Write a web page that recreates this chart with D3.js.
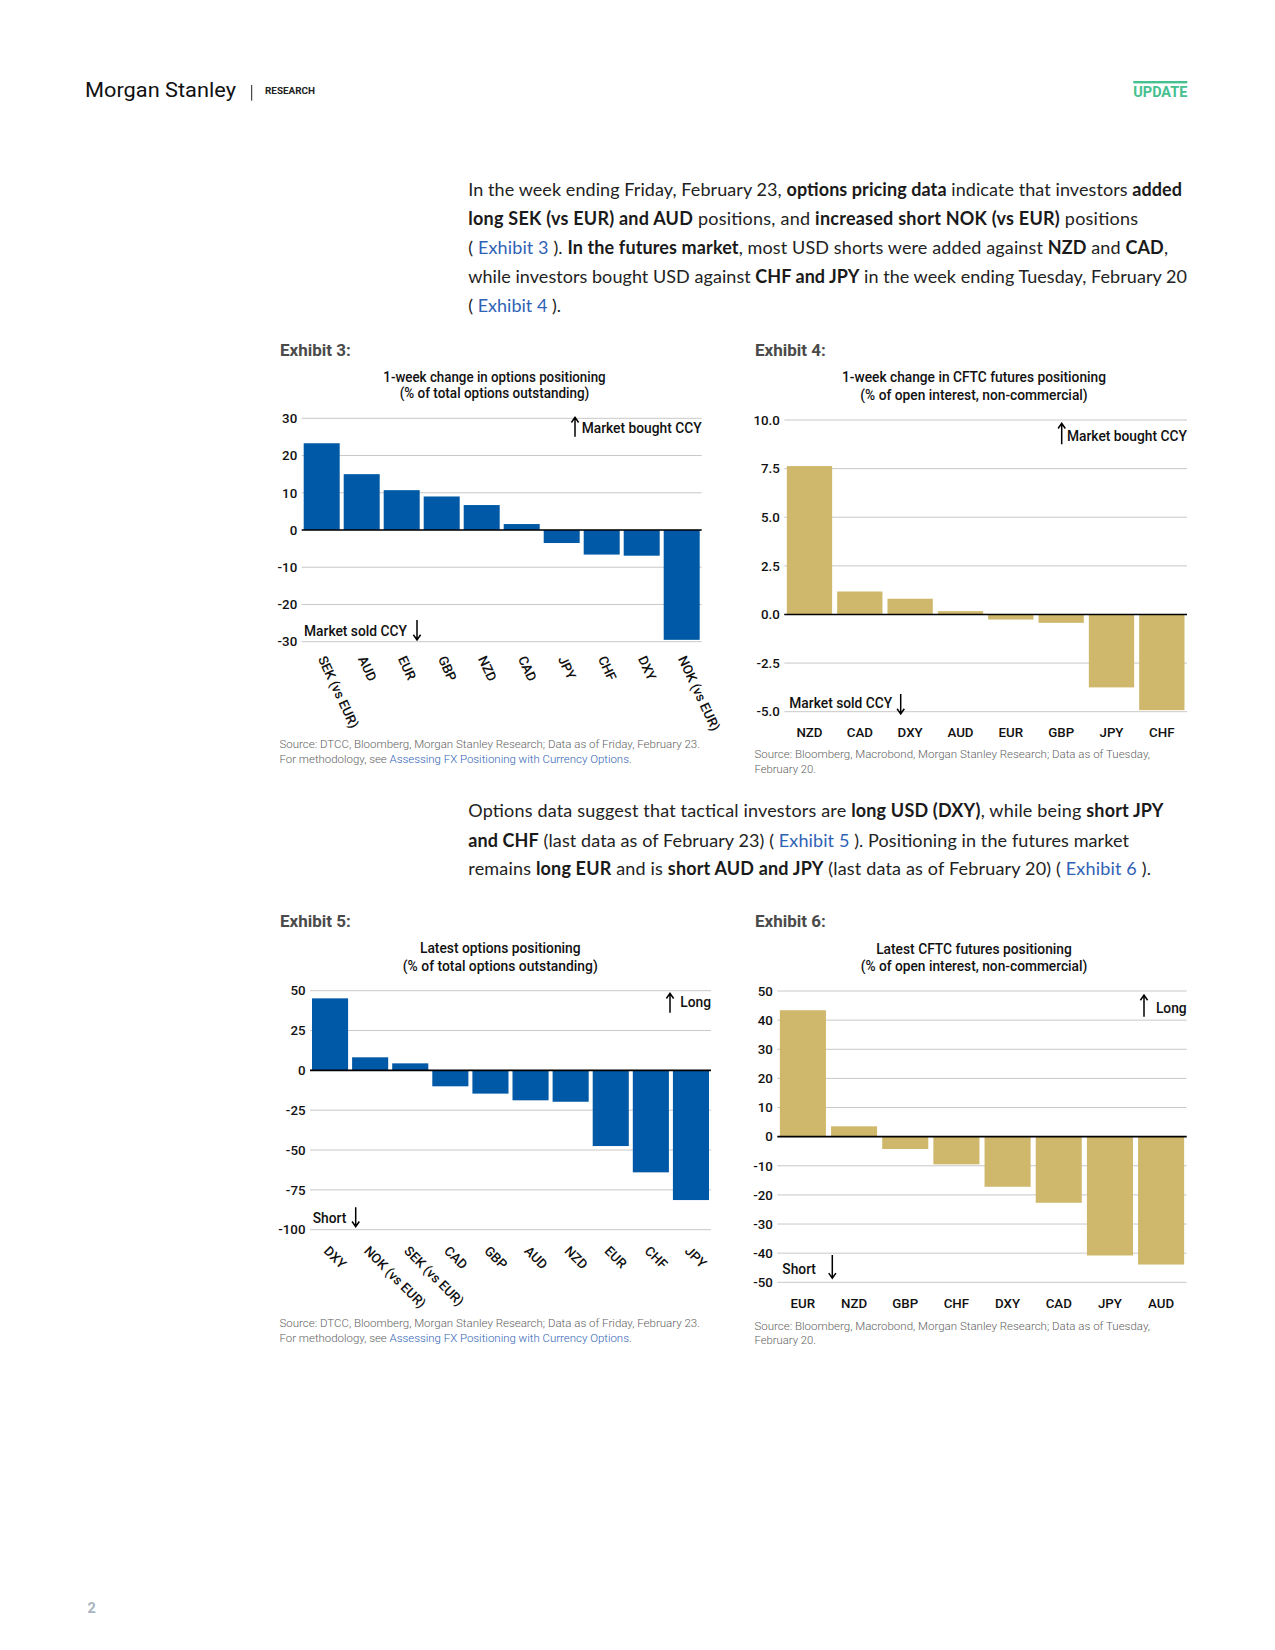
<!DOCTYPE html>
<html><head><meta charset="utf-8">
<script src="https://cdn.jsdelivr.net/npm/d3@7"></script>
<style>
html,body{margin:0;padding:0;background:#fff;}
svg{display:block;}
</style></head>
<body>
<svg id="page" width="1275" height="1650"></svg>
<script>
// ---------------- DATA ----------------
const ex3Cats = ["SEK (vs EUR)","AUD","EUR","GBP","NZD","CAD","JPY","CHF","DXY","NOK (vs EUR)"];
const ex3Vals = [23.3, 15.0, 10.7, 9.0, 6.7, 1.6, -3.5, -6.6, -6.9, -29.5];
const ex3Ticks = [30, 20, 10, 0, -10, -20, -30];

const ex4Cats = ["NZD","CAD","DXY","AUD","EUR","GBP","JPY","CHF"];
const ex4Vals = [7.63, 1.18, 0.81, 0.17, -0.26, -0.43, -3.75, -4.92];
const ex4Ticks = [10, 7.5, 5, 2.5, 0, -2.5, -5];

const ex5Cats = ["DXY","NOK (vs EUR)","SEK (vs EUR)","CAD","GBP","AUD","NZD","EUR","CHF","JPY"];
const ex5Vals = [45.2, 8.2, 4.4, -10.0, -14.6, -18.8, -19.7, -47.5, -64.0, -81.4];
const ex5Ticks = [50, 25, 0, -25, -50, -75, -100];

const ex6Cats = ["EUR","NZD","GBP","CHF","DXY","CAD","JPY","AUD"];
const ex6Vals = [43.4, 3.55, -4.24, -9.5, -17.2, -22.7, -40.8, -43.9];
const ex6Ticks = [50, 40, 30, 20, 10, 0, -10, -20, -30, -40, -50];

const para1 = [
  [["In the week ending Friday, February 23, "],["options pricing data","b"],[" indicate that investors "],["added","b"]],
  [["long SEK (vs EUR) and AUD","b"],[" positions, and "],["increased short NOK (vs EUR)","b"],[" positions"]],
  [["( "],["Exhibit 3","a"],[" ). "],["In the futures market","b"],[", most USD shorts were added against "],["NZD","b"],[" and "],["CAD","b"],[","]],
  [["while investors bought USD against "],["CHF and JPY","b"],[" in the week ending Tuesday, February 20"]],
  [["( "],["Exhibit 4","a"],[" )."]]
];
const para2 = [
  [["Options data suggest that tactical investors are "],["long USD (DXY)","b"],[", while being "],["short JPY","b"]],
  [["and CHF","b"],[" (last data as of February 23) ( "],["Exhibit 5","a"],[" ). Positioning in the futures market"]],
  [["remains "],["long EUR","b"],[" and is "],["short AUD and JPY","b"],[" (last data as of February 20) ( "],["Exhibit 6","a"],[" )."]]
];

// ---------------- DRAW ----------------
const svg = d3.select("#page");
const BLUE = "#0059a6", GOLD = "#cfb76b", LINK = "#2f62b5";
const loc = d3.formatLocale({decimal: ".", thousands: ",", grouping: [3], currency: ["", ""], minus: "-"});

// Header
svg.append("text").attr("x", 85).attr("y", 96.7).attr("font-family","Roboto").attr("font-size",21)
  .attr("fill","#111").attr("textLength",151).attr("lengthAdjust","spacingAndGlyphs").text("Morgan Stanley");
svg.append("line").attr("x1",251.7).attr("x2",251.7).attr("y1",85).attr("y2",100.7).attr("stroke","#222").attr("stroke-width",1);
svg.append("text").attr("x", 265).attr("y", 94).attr("font-family","Roboto").attr("font-weight",700).attr("font-size",8.2)
  .attr("fill","#222").attr("textLength",50).attr("lengthAdjust","spacingAndGlyphs").text("RESEARCH");
svg.append("rect").attr("x",1133.3).attr("y",81).attr("width",54).attr("height",2.4).attr("fill","#45c08e");
svg.append("text").attr("x", 1133.3).attr("y", 96.7).attr("font-family","Roboto").attr("font-weight",700).attr("font-size",13.8)
  .attr("fill","#45c08e").attr("textLength",54).attr("lengthAdjust","spacingAndGlyphs").text("UPDATE");
svg.append("text").attr("x", 87.5).attr("y", 1612.5).attr("font-family","Roboto").attr("font-weight",700).attr("font-size",14.5)
  .attr("fill","#a9b5c0").text("2");

// Paragraphs
function paragraph(lines, x, ys, ends){
  lines.forEach((segs, i) => {
    const t = svg.append("text").attr("x", x).attr("y", ys[i]).attr("font-family","Lato").attr("font-size",18)
      .attr("fill","#222").attr("textLength", ends[i]-x).attr("lengthAdjust","spacing")
      .style("white-space","pre");
    segs.forEach(s => {
      const ts = t.append("tspan").text(s[0]);
      if (s[1]==="b") ts.attr("font-weight",700).attr("fill","#1a1a1a");
      if (s[1]==="a") ts.attr("fill",LINK);
    });
  });
}
paragraph(para1, 468.3, [195.7, 225, 254.3, 283.3, 311.7], [1182, 1138, 1168, 1187, 561]);
paragraph(para2, 468.3, [817.4, 846.6, 875.3], [1163.5, 1129, 1151]);

function sourceLines(lines, x, ys, ends){
  lines.forEach((segs, i) => {
    const t = svg.append("text").attr("x", x).attr("y", ys[i]).attr("font-family","Roboto").attr("font-weight",300)
      .attr("font-size",10.5).attr("fill","#5f5f5f").attr("textLength", ends[i]-x).attr("lengthAdjust","spacingAndGlyphs")
      .style("white-space","pre");
    segs.forEach(s => {
      const ts = t.append("tspan").text(s[0]);
      if (s[1]==="a") ts.attr("fill",LINK);
    });
  });
}

function arrow(x, y1, y2, up){
  const tip = up ? y1 : y2, dir = up ? 1 : -1;
  svg.append("path").attr("d", `M${x},${y1}L${x},${y2}M${x-3.6},${tip+5.2*dir}L${x},${tip}L${x+3.6},${tip+5.2*dir}`)
    .attr("fill","none").attr("stroke","#000").attr("stroke-width",1.5);
}

function drawChart(c){
  const g = svg.append("g");
  const x = d3.scaleBand().domain(c.cats).range([c.x0, c.x1]).paddingInner(0.1).paddingOuter(0.05);
  const y = d3.scaleLinear().domain(c.domain).range([c.yB, c.yT]);

  g.append("text").attr("x", c.lx).attr("y", c.ly).attr("font-family","Roboto").attr("font-weight",700)
    .attr("font-size",17).attr("fill","#4a4a4a").text(c.label);
  c.title.forEach((t,i) => {
    g.append("text").attr("x", c.tcx).attr("y", c.tys[i]).attr("text-anchor","middle").attr("font-family","Roboto")
      .attr("font-weight",500).attr("font-size",14).attr("fill","#111")
      .attr("textLength", c.tw[i]).attr("lengthAdjust","spacingAndGlyphs").text(t);
  });

  g.selectAll("line.grid").data(c.ticks).join("line").attr("class","grid")
    .attr("x1", c.x0).attr("x2", c.x1).attr("y1", d=>y(d)).attr("y2", d=>y(d))
    .attr("stroke","#c8c8c8").attr("stroke-width",1);

  const data = c.cats.map((k,i)=>({k, v:c.vals[i]}));
  g.selectAll("rect.bar").data(data).join("rect").attr("class","bar")
    .attr("x", d=>x(d.k)).attr("width", x.bandwidth())
    .attr("y", d=>y(Math.max(0,d.v))).attr("height", d=>Math.abs(y(d.v)-y(0)))
    .attr("fill", c.color);

  g.append("line").attr("x1", c.x0).attr("x2", c.x1).attr("y1", y(0)).attr("y2", y(0))
    .attr("stroke","#000").attr("stroke-width",1.6);

  const ya = g.append("g").attr("transform",`translate(${c.x0},0)`)
    .call(d3.axisLeft(y).tickValues(c.ticks).tickSize(0).tickPadding(4.5).tickFormat(c.fmt));
  ya.select(".domain").remove();
  ya.selectAll("text").attr("font-family","Roboto").attr("font-size",13.3).attr("font-weight",500).attr("fill","#111");

  const xa = g.append("g").attr("transform",`translate(0,${c.yB})`)
    .call(d3.axisBottom(x).tickSize(0).tickPadding(c.xpad));
  xa.select(".domain").remove();
  const xt = xa.selectAll("text").attr("font-family","Roboto").attr("font-size",13.3).attr("font-weight",500).attr("fill","#111");
  if (c.rot) {
    xt.attr("y", null).attr("dy", null).attr("text-anchor","start")
      .attr("transform", `translate(${c.rdx},${c.rdy}) rotate(${c.rot})`);
  }

  // annotations
  g.append("text").attr("x", c.x1).attr("y", c.upY).attr("text-anchor","end").attr("font-family","Roboto")
    .attr("font-weight",500).attr("font-size",13.8).attr("fill","#111").text(c.upText);
  arrow(c.upAx, c.upA[0], c.upA[1], true);
  g.append("text").attr("x", c.dnX).attr("y", c.dnY).attr("font-family","Roboto")
    .attr("font-weight",500).attr("font-size",13.8).attr("fill","#111").text(c.dnText);
  arrow(c.dnAx, c.dnA[0], c.dnA[1], false);

  sourceLines(c.src, c.lx-0.5, c.srcY, c.srcEnd);
}

const srcOpt = [
  [["Source: DTCC, Bloomberg, Morgan Stanley Research; Data as of Friday, February 23."]],
  [["For methodology, see "],["Assessing FX Positioning with Currency Options","a"],["."]]
];
const srcFut = [
  [["Source: Bloomberg, Macrobond, Morgan Stanley Research; Data as of Tuesday,"]],
  [["February 20."]]
];

drawChart({
  cats: ex3Cats, vals: ex3Vals, ticks: ex3Ticks, domain: [-30,30], color: BLUE, fmt: loc.format("d"),
  x0: 301.7, x1: 701.7, yB: 641.7, yT: 418.3,
  label: "Exhibit 3:", lx: 280, ly: 356,
  title: ["1-week change in options positioning","(% of total options outstanding)"], tcx: 494.5, tys: [381.7, 398.3], tw: [222.4, 189.7],
  xpad: 0, rot: 65, rdx: -4, rdy: 17,
  upText: "Market bought CCY", upY: 432.7, upAx: 575, upA: [417.3, 436.7],
  dnText: "Market sold CCY", dnX: 304, dnY: 636, dnAx: 417, dnA: [620, 640],
  src: srcOpt, srcY: [748.3, 763.3], srcEnd: [700, 631.7]
});
drawChart({
  cats: ex4Cats, vals: ex4Vals, ticks: ex4Ticks, domain: [-5,10], color: GOLD, fmt: loc.format(".1f"),
  x0: 784.3, x1: 1187, yB: 711.7, yT: 420,
  label: "Exhibit 4:", lx: 755, ly: 356,
  title: ["1-week change in CFTC futures positioning","(% of open interest, non-commercial)"], tcx: 974, tys: [382.3, 400], tw: [264, 227.3],
  xpad: 16, rot: 0,
  upText: "Market bought CCY", upY: 440.7, upAx: 1061.7, upA: [423.3, 444.3],
  dnText: "Market sold CCY", dnX: 789.3, dnY: 707.7, dnAx: 900.7, dnA: [694, 714],
  src: srcFut, srcY: [758.3, 772.7], srcEnd: [1150, 816]
});
drawChart({
  cats: ex5Cats, vals: ex5Vals, ticks: ex5Ticks, domain: [-100,50], color: BLUE, fmt: loc.format("d"),
  x0: 310, x1: 711, yB: 1229.7, yT: 990.7,
  label: "Exhibit 5:", lx: 280, ly: 926.7,
  title: ["Latest options positioning","(% of total options outstanding)"], tcx: 500.3, tys: [953.3, 970.7], tw: [160.7, 195],
  xpad: 0, rot: 45, rdx: -7, rdy: 22,
  upText: "Long", upY: 1006.7, upAx: 670, upA: [993.3, 1012.7],
  dnText: "Short", dnX: 312.7, dnY: 1222.7, dnAx: 355.7, dnA: [1207.3, 1226.7],
  src: srcOpt, srcY: [1327.3, 1341.7], srcEnd: [700, 631.7]
});
drawChart({
  cats: ex6Cats, vals: ex6Vals, ticks: ex6Ticks, domain: [-50,50], color: GOLD, fmt: loc.format("d"),
  x0: 777.3, x1: 1186.7, yB: 1282.3, yT: 991,
  label: "Exhibit 6:", lx: 755, ly: 926.7,
  title: ["Latest CFTC futures positioning","(% of open interest, non-commercial)"], tcx: 974, tys: [954, 971.3], tw: [195.7, 226.7],
  xpad: 16.5, rot: 0,
  upText: "Long", upY: 1012.7, upAx: 1144, upA: [995, 1016.7],
  dnText: "Short", dnX: 782.3, dnY: 1274, dnAx: 832.3, dnA: [1255, 1278.3],
  src: srcFut, srcY: [1330, 1344.3], srcEnd: [1150, 816]
});
</script>
</body></html>
